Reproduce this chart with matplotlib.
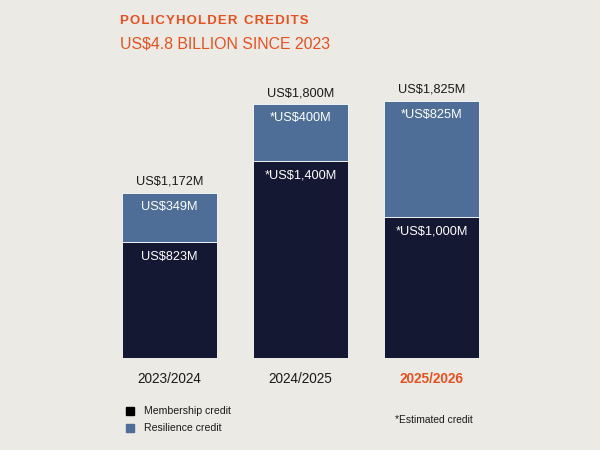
import matplotlib
matplotlib.use("Agg")
import matplotlib.pyplot as plt

plt.rcParams['font.family'] = ['Liberation Sans', 'DejaVu Sans']

# data (US$ millions)
years = ["2023/2024", "2024/2025", "2025/2026"]
membership = [823, 1400, 1000]
resilience = [349, 400, 825]
totals = [1172, 1800, 1825]
membership_labels = ["US$823M", "*US$1,400M", "*US$1,000M"]
resilience_labels = ["US$349M", "*US$400M", "*US$825M"]
total_labels = ["US$1,172M", "US$1,800M", "US$1,825M"]

bg = "#ECEAE4"
navy = "#151832"
blue = "#4F6E97"
orange = "#E8501E"

fig = plt.figure(figsize=(6, 4.5), dpi=100, facecolor=bg)
ax = fig.add_axes([104/600, 1 - 358/450, 393/600, 282/450])
ax.set_facecolor(bg)

x = range(len(years))
w = 0.725
ax.bar(x, membership, width=w, color=navy, edgecolor="white", linewidth=0.6)
ax.bar(x, resilience, width=w, bottom=membership, color=blue, edgecolor="white", linewidth=0.6)

ax.set_xlim(-0.5, 2.5)
ax.set_ylim(0, 2000)
ax.axis("off")

# px -> data offset helper: 2000 units over 282 px
upp = 2000 / 282
for i in x:
    ax.text(i, totals[i] + 11 * upp, total_labels[i], ha="center", va="center",
            fontsize=9.2, color="#1a1a1a")
    ax.text(i, totals[i] - 14 * upp, resilience_labels[i], ha="center", va="center",
            fontsize=9.2, color="white")
    ax.text(i, membership[i] - 15 * upp, membership_labels[i], ha="center", va="center",
            fontsize=9.2, color="white")
    col = orange if i == 2 else "#1a1a1a"
    ax.text(i, -21 * upp, years[i], ha="center", va="center", fontsize=9.8,
            color=col, fontweight="bold" if i == 2 else "normal")

# titles
fig.text(120/600, 1 - 21/450, "P O L I C Y H O L D E R   C R E D I T S".replace("   ", "\u2002").replace(" ", "\u200a"),
         ha="left", va="center", fontsize=9.5, fontweight="bold", color=orange)
fig.text(120/600, 1 - 44/450, "US$4.8 BILLION SINCE 2023", ha="left", va="center",
         fontsize=11.4, color=orange)

# legend
fig.patches.append(plt.Rectangle((126/600, 1 - 415/450), 8/600, 8/450,
                                 transform=fig.transFigure, color="black"))
fig.patches.append(plt.Rectangle((126/600, 1 - 432/450), 8/600, 8/450,
                                 transform=fig.transFigure, color=blue))
fig.text(144/600, 1 - 411/450, "Membership credit", ha="left", va="center",
         fontsize=7.6, color="#1a1a1a")
fig.text(144/600, 1 - 428/450, "Resilience credit", ha="left", va="center",
         fontsize=7.6, color="#1a1a1a")
fig.text(395/600, 1 - 420/450, "*Estimated credit", ha="left", va="center",
         fontsize=7.4, color="#1a1a1a")

fig.savefig("out.png", dpi=100, facecolor=bg)
